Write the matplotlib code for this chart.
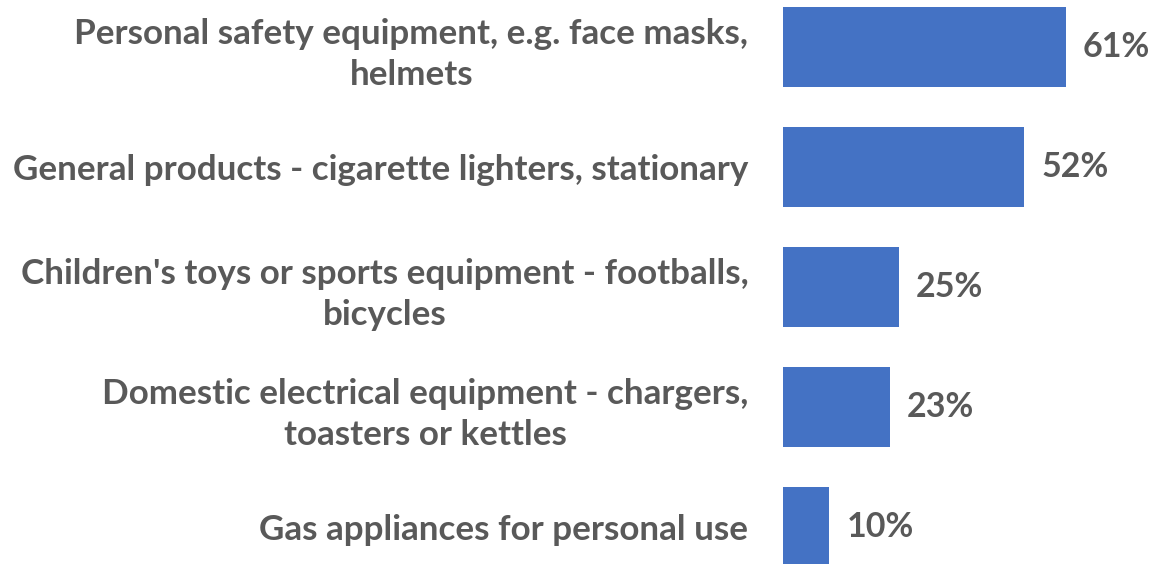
import numpy as np
import matplotlib.pyplot as plt

categories = [
    "Personal safety equipment, e.g. face masks,\nhelmets",
    "General products - cigarette lighters, stationary",
    "Children's toys or sports equipment - footballs,\nbicycles",
    "Domestic electrical equipment - chargers,\ntoasters or kettles",
    "Gas appliances for personal use",
]
values = [61, 52, 25, 23, 10]

bar_color = "#4472C4"
text_color = "#595959"

plt.rcParams['font.family'] = ['Lato', 'DejaVu Sans']

fig = plt.figure(figsize=(11.54, 5.64), dpi=100)
ax = fig.add_axes([783 / 1154, 0, 1 - 783 / 1154, 1])

y = np.arange(len(values))
ax.barh(y, values, height=80 / 120, color=bar_color)

# bar i centre sits at 47 + 120*i pixels from the top
ax.set_ylim((564 - 47) / 120, -47 / 120)
ax.set_xlim(0, (1154 - 783) / 4.64)

for yi, v in zip(y, values):
    ax.annotate(f"{v}%", (v, yi), xytext=(17, 0), textcoords="offset pixels",
                va="center", ha="left", fontsize=24.5, fontweight="bold",
                color=text_color)

ax.set_yticks(y)
ax.set_yticklabels(categories, fontsize=25.2, fontweight="bold", color=text_color,
                   multialignment="center", linespacing=1.35)
ax.tick_params(axis="y", length=0, pad=25)
ax.set_xticks([])
for s in ax.spines.values():
    s.set_visible(False)

plt.savefig("out.png", dpi=100)
